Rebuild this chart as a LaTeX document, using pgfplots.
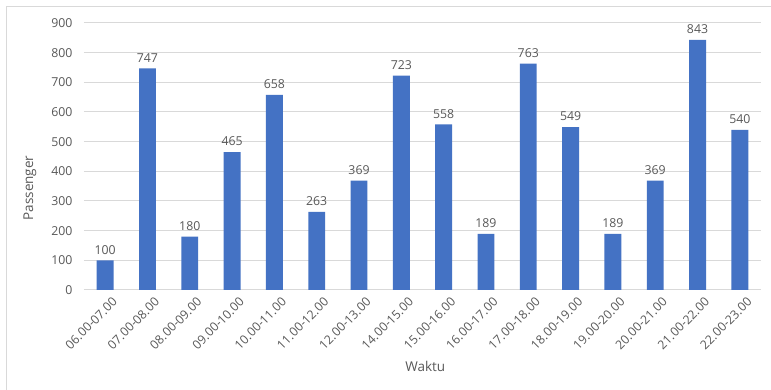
\documentclass[border=0pt]{standalone}
\usepackage{pgfplots}
\pgfplotsset{compat=1.18}
\usepackage{fontspec}
\setmainfont{Open Sans}
\definecolor{barblue}{HTML}{4472C4}
\definecolor{txtgray}{HTML}{595959}
\definecolor{gridgray}{HTML}{D9D9D9}
\definecolor{framegray}{HTML}{D9D9D9}
\begin{document}
\begin{tikzpicture}[x=1pt,y=1pt]
\useasboundingbox (0,0) rectangle (771,390);
\fill[white] (0,0) rectangle (771,390);
% chart area frame
\draw[framegray, line width=1pt] (6,0) -- (6,383) -- (771,383);
\begin{axis}[
  at={(84pt,100pt)}, anchor=south west,
  scale only axis, width=677pt, height=267pt,
  xmin=-0.5, xmax=15.5, ymin=0, ymax=900,
  ytick={0,100,...,900},
  xtick={0,...,15},
  xticklabels={06.00-07.00,07.00-08.00,08.00-09.00,09.00-10.00,10.00-11.00,11.00-12.00,12.00-13.00,14.00-15.00,15.00-16.00,16.00-17.00,17.00-18.00,18.00-19.00,19.00-20.00,20.00-21.00,21.00-22.00,22.00-23.00},
  x tick label style={rotate=45, anchor=north east, font=\fontsize{12.3}{14}\selectfont, text=txtgray, inner sep=1pt, yshift=-8pt, xshift=1pt},
  y tick label style={font=\fontsize{12.3}{14}\selectfont, text=txtgray, xshift=-8pt},
  /pgf/number format/assume math mode=true,
  major tick length=0pt,
  axis line style={draw=none},
  ymajorgrids, grid style={gridgray, line width=1pt},
  xlabel={Waktu}, ylabel={Passenger},
  label style={font=\fontsize{13.5}{15}\selectfont, text=txtgray},
  xlabel style={at={(axis description cs:0.504,-0.288)}, anchor=center},
  ylabel style={at={(axis description cs:-0.080,0.382)}, anchor=center, rotate=0},
  nodes near coords,
  every node near coord/.append style={font=\fontsize{12.3}{14}\selectfont, text=txtgray, inner sep=1pt, yshift=5pt},
]
\addplot[ybar, bar width=0.4, fill=barblue, draw=none] coordinates {
(0,100) (1,747) (2,180) (3,465) (4,658) (5,263) (6,369) (7,723)
(8,558) (9,189) (10,763) (11,549) (12,189) (13,369) (14,843) (15,540)
};
\end{axis}
\end{tikzpicture}
\end{document}
